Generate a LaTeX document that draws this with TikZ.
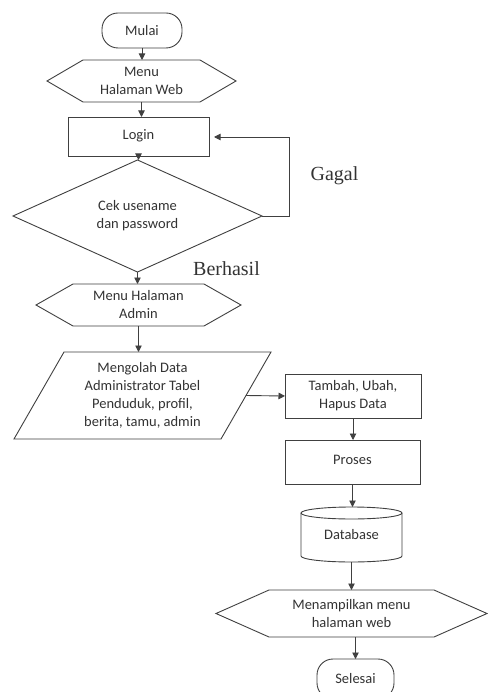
\documentclass[tikz,border=0pt]{standalone}
\usepackage{fontspec}
\setmainfont{Carlito}
\newfontfamily\serifb{Liberation Serif}
\usetikzlibrary{shapes.geometric,arrows.meta}
\definecolor{ln}{HTML}{404040}
\definecolor{tx}{HTML}{333333}
\begin{document}
\begin{tikzpicture}[x=1pt,y=-1pt,
 base/.style={inner sep=0pt,outer sep=0pt,align=center,text=tx,font=\fontsize{14.5}{18}\selectfont},
 box/.style={base,draw=ln,line width=0.9pt,rectangle},
 term/.style={box,rounded corners=16pt},
 ghost/.style={base,rectangle},
 line/.style={draw=ln,line width=0.9pt},
 arr/.style={line,-{Triangle[length=6.5pt,width=6.5pt]}},
 lbl/.style={text=tx,font=\serifb\fontsize{20}{24}\selectfont,inner sep=0pt}
]
\useasboundingbox[fill=white] (0,0) rectangle (487,692);

\node[term,minimum width=80pt,minimum height=35pt] (mulai) at (142,30.5) {Mulai};
\node[ghost,minimum width=189pt,minimum height=42pt] (h1) at (141.5,81) {Menu\\Halaman Web};
\node[box,minimum width=141pt,minimum height=39pt] (login) at (138.5,136.5) {\raisebox{4pt}{Login}};
\node[box,shape=diamond,minimum width=249pt,minimum height=90pt] (cek) at (137.5,216) {Cek usename\\dan password};
\node[ghost,minimum width=205pt,minimum height=42pt] (h2) at (138.5,305) {Menu Halaman\\Admin};
\node[ghost,minimum width=257pt,minimum height=87pt] (olah) at (142.5,395.5) {Mengolah Data\\Administrator Tabel\\Penduduk, profil,\\berita, tamu, admin};
\node[box,minimum width=136pt,minimum height=44pt] (tambah) at (353,396) {Tambah, Ubah,\\Hapus Data};
\node[box,minimum width=135pt,minimum height=44pt] (proses) at (352.5,462) {\raisebox{5pt}{Proses}};
\node[ghost,minimum width=101pt,minimum height=55pt] (db) at (351.5,534.5) {\raisebox{-4pt}{Database}};
\node[ghost,minimum width=271pt,minimum height=47pt] (h3) at (351.5,613.5) {Menampilkan menu\\halaman web};
\node[term,minimum width=77pt,minimum height=40pt] (selesai) at (355.5,679) {Selesai};

\node[lbl] (gagal) at (334.5,176) {Gagal};
\node[lbl] (berhasil) at (226.5,269) {Berhasil};

% outlines
\draw[line] (h1.west) -- ([xshift=36pt]h1.north west) -- ([xshift=-36pt]h1.north east) -- (h1.east) -- ([xshift=-36pt]h1.south east) -- ([xshift=36pt]h1.south west) -- cycle;
\draw[line] (h2.west) -- ([xshift=37pt]h2.north west) -- ([xshift=-37pt]h2.north east) -- (h2.east) -- ([xshift=-37pt]h2.south east) -- ([xshift=37pt]h2.south west) -- cycle;
\draw[line] (h3.west) -- ([xshift=53pt]h3.north west) -- ([xshift=-53pt]h3.north east) -- (h3.east) -- ([xshift=-53pt]h3.south east) -- ([xshift=53pt]h3.south west) -- cycle;
\draw[line] ([xshift=50pt]olah.north west) -- (olah.north east) -- ([xshift=-50pt]olah.south east) -- (olah.south west) -- cycle;
\draw[line] ([yshift=-6pt]db.north) ellipse (50.5pt and 6pt);
\draw[line] ([yshift=-6pt]db.north west) -- ([yshift=6pt]db.south west) arc[start angle=180,end angle=360,x radius=50.5pt,y radius=6pt] -- ([yshift=-6pt]db.north east);

% connectors
\draw[arr] (mulai.south) -- (mulai.south |- h1.north);
\draw[arr] (h1.south) -- (h1.south |- login.north);
\draw[arr] (login.south) -- (login.south |- cek.north);
\draw[arr] (cek.south) -- (cek.south |- h2.north);
\draw[arr] (h2.south) -- (h2.south |- olah.north);
\coordinate (fb) at (289.5,137);
\draw[arr,shorten >=5pt] (cek.east) -| (fb) -- (fb -| login.east);
\coordinate (oe) at (246,395.5);
\draw[arr] (oe) -- (tambah.west);
\draw[arr] (tambah.south) -- (tambah.south |- proses.north);
\draw[arr] (proses.south) -- (proses.south |- db.north);
\draw[arr] (db.south) -- (db.south |- h3.north);
\draw[arr] (selesai.north |- h3.south) -- (selesai.north);
\end{tikzpicture}
\end{document}
